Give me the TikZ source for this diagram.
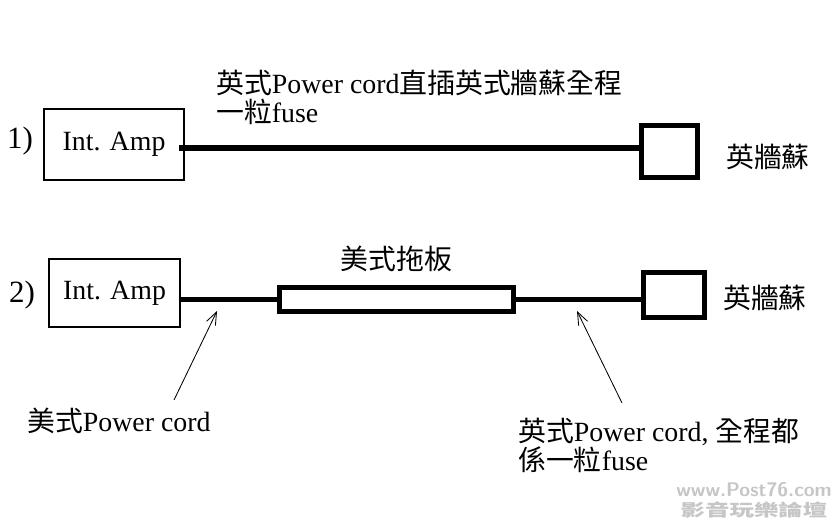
\documentclass[tikz,border=0pt]{standalone}
\usepackage{fontspec}
\setmainfont{Liberation Serif}
\newfontfamily\cjk{Noto Sans CJK TC}
\newcommand\zh[1]{{\cjk #1}}
\usetikzlibrary{
  arrows.meta,
  positioning
}
\tikzset{
  ampbox/.style = {draw, line width=1.4pt, inner sep=0pt},
  socket/.style = {draw, line width=4.2pt, inner sep=0pt},
  cable/.style = {line width=3.8pt},
  pointer/.style = {line width=0.6pt, -{Straight Barb[length=9pt,width=7pt]}},
  lbl/.style = {font=\fontsize{19.8}{20.2}\selectfont, inner sep=0pt},
  numlbl/.style = {font=\fontsize{22}{24}\selectfont, inner sep=0pt},
}

\begin{document}
\begin{tikzpicture}[x=0.025cm, y=-0.025cm]
  \useasboundingbox (0,0) rectangle (840,525);

  % 1) cord straight into the wall socket
  \node[numlbl] (num1) at (20,141) {1)};
  \node[ampbox, lbl, minimum width=3.5cm, minimum height=1.775cm] (amp1) at (114,144.5) {Int. Amp};
  \node[socket, minimum width=1.4cm, minimum height=1.3cm] (sock1) at (669.5,151.5) {};
  \node[lbl] (wall1) at (768,157) {\zh{英牆蘇}};
  \node[lbl, anchor=north west, align=left] (note1) at (216,70) {\zh{英式}Power cord\zh{直插英式牆蘇全程}\\\zh{一粒}fuse};
  \draw[cable] ([xshift=-0.15cm,yshift=-0.09cm]amp1.east) -- ([yshift=-0.09cm]amp1.east -| sock1.west);

  % 2) through the power strip
  \node[numlbl] (num2) at (22,295) {2)};
  \node[ampbox, lbl, minimum width=3.275cm, minimum height=1.7cm] (amp2) at (114.5,293) {Int. Amp};
  \node[socket, minimum width=5.85cm, minimum height=0.6cm] (strip) at (396.5,299.5) {};
  \node[lbl, above=0.3cm of strip] (striplbl) {\zh{美式拖板}};
  \node[socket, minimum width=1.525cm, minimum height=1.125cm] (sock2) at (674,295) {};
  \node[lbl] (wall2) at (765,298) {\zh{英牆蘇}};
  \draw[cable] (amp2.east |- strip.west) -- (strip.west);
  \draw[cable, line width=3.2pt] (strip.east) -- (strip.east -| sock2.west);

  % the two cords
  \node[lbl, anchor=north west] (cordA) at (27,408) {\zh{美式}Power cord};
  \node[lbl, anchor=north west, align=left] (cordB) at (518,418) {\zh{英式}Power cord, \zh{全程都}\\\zh{係一粒}fuse};
  \coordinate (tipA) at (217,311);
  \coordinate (tipB) at (577,311);
  \draw[pointer] ([shift={(147,-8)}]cordA.north west) -- (tipA);
  \draw[pointer] ([shift={(104,-15)}]cordB.north west) -- (tipB);

  % watermark
  \node[text=gray!45, inner sep=0pt, align=center, font=\sffamily\bfseries\fontsize{14}{14}\selectfont] (mark) at (754,500)
    {www.Post76.com\\\scalebox{1.45}[1]{\fontsize{12}{14}\selectfont\zh{影音玩樂論壇}}};
\end{tikzpicture}
\end{document}
